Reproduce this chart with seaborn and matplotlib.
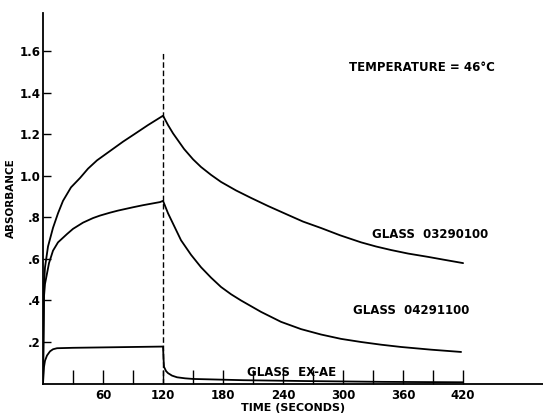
import matplotlib
matplotlib.use("Agg")
import matplotlib.pyplot as plt
import seaborn as sns
import pandas as pd

# absorbance traces
t_03290100 = [0, 1, 2, 5, 10, 15, 20, 28, 37, 45, 54, 67, 80, 91, 105, 120,
              125, 130, 141, 150, 158, 168, 178, 193, 208, 225, 245, 260, 278, 297, 318,
              333, 348, 365, 385, 400, 420]
a_03290100 = [0.0, 0.48, 0.56, 0.66, 0.75, 0.82, 0.88, 0.945, 0.99, 1.035, 1.075, 1.12, 1.165, 1.20, 1.245, 1.29,
              1.245, 1.205, 1.13, 1.08, 1.043, 1.005, 0.971, 0.93, 0.894, 0.855, 0.812, 0.78, 0.749, 0.714, 0.68,
              0.66, 0.643, 0.626, 0.61, 0.597, 0.58]

t_04291100 = [0, 1, 2, 4, 6, 10, 15, 24, 30, 40, 50, 57, 67, 75, 90, 100, 117, 120,
              125, 130, 138, 148, 158, 168, 178, 188, 198, 218, 238, 258, 278, 298, 318, 338, 358, 388, 418]
a_04291100 = [0.0, 0.42, 0.48, 0.53, 0.58, 0.64, 0.68, 0.72, 0.745, 0.775, 0.797, 0.809, 0.823, 0.833, 0.849,
              0.859, 0.874, 0.88,
              0.82, 0.77, 0.69, 0.62, 0.56, 0.51, 0.465, 0.43, 0.40, 0.345, 0.297, 0.262, 0.236, 0.215, 0.20,
              0.187, 0.176, 0.163, 0.152]

t_exae = [0, 1, 2, 4, 7, 10, 14, 30, 60, 90, 120, 120.5, 121, 123, 125, 129, 134, 142, 150, 200, 260, 340, 420]
a_exae = [0.0, 0.08, 0.11, 0.135, 0.155, 0.165, 0.17, 0.172, 0.174, 0.176, 0.178, 0.12, 0.08, 0.06, 0.05,
          0.038, 0.03, 0.025, 0.022, 0.016, 0.012, 0.008, 0.006]

glasses = ["GLASS  03290100", "GLASS  04291100", "GLASS  EX-AE"]
label_pos = [(329, 0.716), (310, 0.35), (204, 0.055)]

y_ticks = [0.2, 0.4, 0.6, 0.8, 1.0, 1.2, 1.4, 1.6]
y_ticklabels = [".2", ".4", ".6", ".8", "1.0", "1.2", "1.4", "1.6"]
x_ticks = [60, 120, 180, 240, 300, 360, 420]
x_minor = [30, 90, 150, 210, 270, 330, 390]
flow_stop = 120

df = pd.concat([
    pd.DataFrame({"t": t_03290100, "abs": a_03290100, "glass": glasses[0]}),
    pd.DataFrame({"t": t_04291100, "abs": a_04291100, "glass": glasses[1]}),
    pd.DataFrame({"t": t_exae, "abs": a_exae, "glass": glasses[2]}),
])

sns.set_style("ticks")
plt.rcParams['font.family'] = ['DejaVu Sans']
for k in ["text.color", "axes.labelcolor", "xtick.color", "ytick.color", "axes.edgecolor"]:
    plt.rcParams[k] = "black"

fig = plt.figure(figsize=(5.43, 4.18), dpi=100)
ax = fig.add_axes([0.0792, 0.0825, 0.921, 0.887])

sns.lineplot(data=df, x="t", y="abs", hue="glass", palette=["black"] * 3,
             linewidth=1.3, legend=False, ax=ax, estimator=None, sort=False)

ax.vlines(flow_stop, 0, 1.6, colors="black", linestyles=(0, (4, 2)), linewidth=1.0)

for name, (x, y) in zip(glasses, label_pos):
    ax.text(x, y, name, fontsize=8.5, fontweight="bold", va="center", ha="left", color="black")
ax.text(306, 1.52, "TEMPERATURE = 46°C", fontsize=8.5, fontweight="bold", va="center", ha="left")

ax.set_xlim(0, 500)
ax.set_ylim(0, 1.786)
ax.set_yticks(y_ticks)
ax.set_yticklabels(y_ticklabels, fontsize=8.5, fontweight="bold")
ax.set_xticks(x_ticks)
ax.set_xticklabels([str(v) for v in x_ticks], fontsize=8.5, fontweight="bold")
ax.set_xticks(x_minor, minor=True)
ax.tick_params(axis="x", which="both", direction="in", length=10, width=1.0, pad=4)
ax.tick_params(axis="y", direction="in", length=6, width=1.0, pad=2)

ax.set_xlabel("TIME (SECONDS)", fontsize=8, fontweight="bold", labelpad=1)
ax.set_ylabel("ABSORBANCE", fontsize=7.5, fontweight="bold", labelpad=2)

sns.despine(ax=ax)
for s in ["left", "bottom"]:
    ax.spines[s].set_linewidth(1.3)

fig.savefig("out.png", dpi=100)
